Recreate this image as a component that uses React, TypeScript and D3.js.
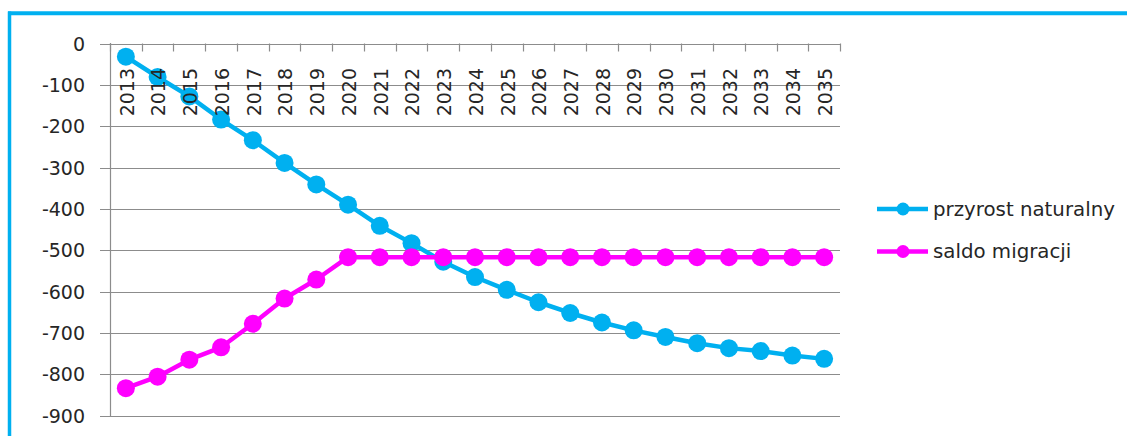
import React from "react";
import * as d3 from "d3";

const years = ["2013","2014","2015","2016","2017","2018","2019","2020","2021","2022","2023","2024","2025","2026","2027","2028","2029","2030","2031","2032","2033","2034","2035"];
const przyrost = [-32,-81,-128,-184,-234,-289,-341,-390,-441,-483,-528,-565,-596,-626,-652,-675,-694,-710,-725,-737,-744,-755,-763];
const saldo = [-834,-806,-765,-735,-678,-617,-571,-517,-517,-517,-517,-517,-517,-517,-517,-517,-517,-517,-517,-517,-517,-517,-517];
const yTicks = [0,-100,-200,-300,-400,-500,-600,-700,-800,-900];
const seriesNames = ["przyrost naturalny", "saldo migracji"];
const colors = ["#00B0F0", "#FF00FF"];

export default function App() {
  const W = 1127, H = 436;
  const x = d3.scaleBand<string>().domain(years).range([110, 840]).padding(0);
  const y = d3.scaleLinear().domain([-900, 0]).range([415.5, 43.5]);
  const cx = (yr: string) => (x(yr) ?? 0) + x.bandwidth() / 2;
  const line = d3.line<number>().x((_, i) => cx(years[i])).y((d) => y(d));
  const font = "'DejaVu Sans', Verdana, sans-serif";
  const series = [przyrost, saldo];
  const boundaries = d3.range(years.length + 1).map((i) => 110 + i * x.bandwidth());
  return (
    <svg width={W} height={H} style={{ position: "fixed", left: 0, top: 0, background: "#fff" }}>
      <rect x={0} y={0} width={W} height={H} fill="#fff" />
      {/* frame */}
      <line x1={9.5} x2={9.5} y1={11.5} y2={H} stroke="#00B0F0" strokeWidth={3.5} />
      <line x1={8} x2={W} y1={13.3} y2={13.3} stroke="#00B0F0" strokeWidth={4} />
      {/* gridlines */}
      {yTicks.map((t) => (
        <g key={t}>
          <line x1={100} x2={840} y1={Math.round(y(t)) + 0.5} y2={Math.round(y(t)) + 0.5} stroke="#8c8c8c" strokeWidth={1.2} />
          <text x={85} y={y(t)} textAnchor="end" dominantBaseline="central" fontFamily={font} fontSize={19} fill="#262626">{t}</text>
        </g>
      ))}
      <line x1={110.5} x2={110.5} y1={43} y2={416} stroke="#8c8c8c" strokeWidth={1.2} />
      {boundaries.map((b, i) => (
        <line key={i} x1={Math.round(b) + 0.5} x2={Math.round(b) + 0.5} y1={43.5} y2={51.5} stroke="#8c8c8c" strokeWidth={1.2} />
      ))}
      {series.map((s, si) => (
        <g key={si}>
          <path d={line(s) ?? ""} fill="none" stroke={colors[si]} strokeWidth={4.5} strokeLinejoin="round" />
          {s.map((v, i) => (
            <circle key={i} cx={cx(years[i])} cy={y(v)} r={9} fill={colors[si]} />
          ))}
        </g>
      ))}
      {years.map((yr) => (
        <text key={yr} transform={`translate(${cx(yr) + 0.8},68) rotate(-90)`} textAnchor="end" dominantBaseline="central" fontFamily={font} fontSize={19} fill="#262626">{yr}</text>
      ))}
      {/* legend */}
      {seriesNames.map((n, i) => {
        const ly = 209 + i * 42.5;
        return (
          <g key={n}>
            <line x1={877} x2={928} y1={ly} y2={ly} stroke={colors[i]} strokeWidth={4.5} />
            <circle cx={903} cy={ly} r={6.5} fill={colors[i]} />
            <text x={933} y={ly} dominantBaseline="central" fontFamily={font} fontSize={19.8} fill="#262626">{n}</text>
          </g>
        );
      })}
    </svg>
  );
}
